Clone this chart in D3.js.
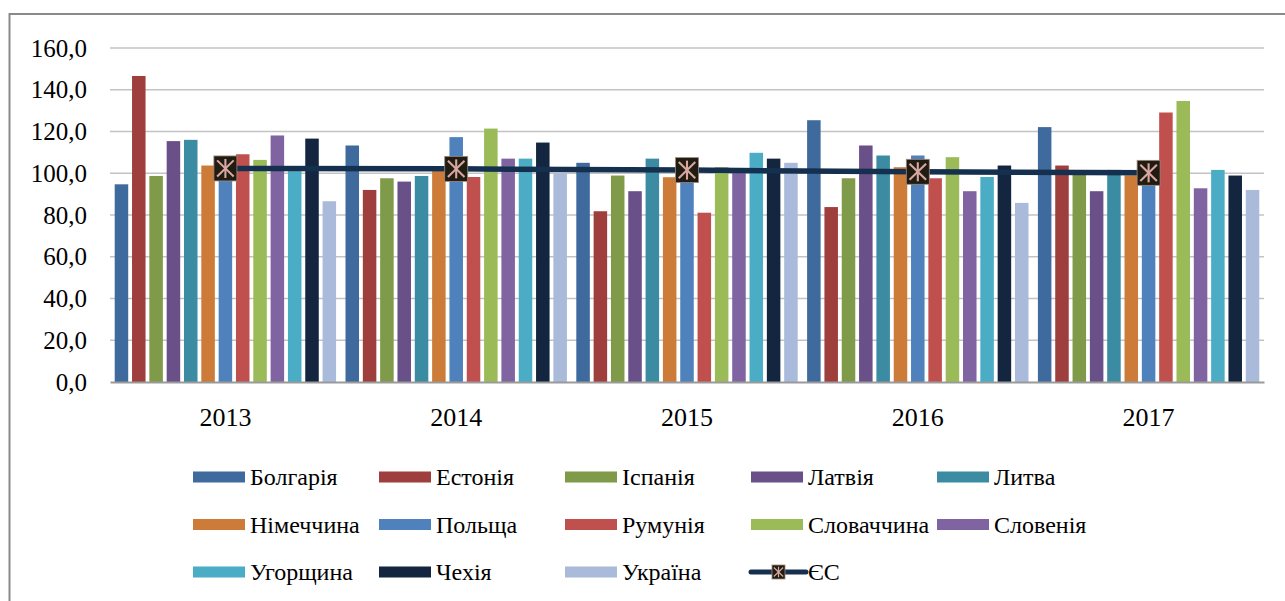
<!DOCTYPE html>
<html>
<head>
<meta charset="utf-8">
<script src="https://cdn.jsdelivr.net/npm/d3@7"></script>
<style>
  html, body { margin: 0; padding: 0; background: #fff; }
  svg text { font-family: "Liberation Serif", "Times New Roman", serif !important; }
</style>
</head>
<body>
<svg id="chart" width="1285" height="601"></svg>
<script>
// Years on the category axis
const years = ["2013", "2014", "2015", "2016", "2017"];

// Country series names (legend order)
const countries = ["Болгарія", "Естонія", "Іспанія", "Латвія", "Литва",
                   "Німеччина", "Польща", "Румунія", "Словаччина", "Словенія",
                   "Угорщина", "Чехія", "Україна"];

// Values per country, one per year
const bulgaria  = [94.7, 113.3, 105.0, 125.4, 122.1];
const estonia   = [146.6, 92.0, 81.8, 83.8, 103.7];
const spain     = [98.7, 97.6, 98.9, 97.6, 100.8];
const latvia    = [115.4, 96.0, 91.4, 113.3, 91.4];
const lithuania = [116.0, 98.7, 107.0, 108.5, 101.6];
const germany   = [103.7, 101.0, 98.1, 102.9, 99.0];
const poland    = [98.0, 117.3, 96.0, 108.5, 97.0];
const romania   = [109.1, 98.2, 81.1, 97.6, 129.1];
const slovakia  = [106.4, 121.4, 102.9, 107.7, 134.6];
const slovenia  = [118.1, 107.0, 101.5, 91.4, 92.8];
const hungary   = [101.0, 107.0, 109.8, 98.2, 101.6];
const czechia   = [116.6, 114.7, 107.0, 103.7, 98.9];
const ukraine   = [86.6, 100.0, 105.0, 85.8, 92.0];

// EU average line
const euLabel = "ЄС";
const eu = [102.3, 102.1, 101.5, 100.7, 100.2];

// Value axis ticks
const yTicks = [0, 20, 40, 60, 80, 100, 120, 140, 160];

const seriesValues = [bulgaria, estonia, spain, latvia, lithuania, germany, poland,
                      romania, slovakia, slovenia, hungary, czechia, ukraine];

const colors = ["#3F6A9D", "#9E3F3D", "#7F9A48", "#6A5088", "#3B8CA3",
                "#CD7B38", "#4F81BD", "#C0504D", "#9BBB59", "#8064A2",
                "#4BACC6", "#13253F", "#A9BADA"];

const serif = "'Liberation Serif', 'Times New Roman', serif";
const svg = d3.select("#chart");

// Outer frame (extends past the right/bottom edge)
svg.append("rect")
  .attr("x", 9.5).attr("y", 14)
  .attr("width", 1300).attr("height", 620)
  .attr("fill", "#fff")
  .attr("stroke", "#8a8a8a").attr("stroke-width", 2);

const plot = { left: 110, right: 1264, top: 48, bottom: 382 };

const x0 = d3.scaleBand().domain(years).range([plot.left, plot.right]).padding(0);
const x1 = d3.scaleBand().domain(countries)
  .range([2.8, x0.bandwidth() - 2.8])
  .paddingInner(0.22).paddingOuter(0.11);
const y = d3.scaleLinear().domain([0, 160]).range([plot.bottom, plot.top]);

const fmt = v => d3.format(".1f")(v).replace(".", ",");

// Gridlines
svg.append("g")
  .selectAll("line")
  .data(yTicks.filter(t => t > 0))
  .join("line")
  .attr("x1", plot.left).attr("x2", plot.right)
  .attr("y1", d => y(d)).attr("y2", d => y(d))
  .attr("stroke", "#c3c3c3").attr("stroke-width", 1.6);

// Y axis labels
const yAxis = d3.axisLeft(y).tickValues(yTicks).tickFormat(fmt).tickSize(0).tickPadding(23);
const yg = svg.append("g").attr("transform", `translate(${plot.left},0)`).call(yAxis)
  .attr("font-family", serif);
yg.select(".domain").remove();
yg.selectAll("text")
  .style("font-family", serif)
  .attr("font-size", 25).attr("fill", "#000");

// Bars
const groups = svg.append("g")
  .selectAll("g")
  .data(years)
  .join("g")
  .attr("transform", d => `translate(${x0(d)},0)`);

groups.selectAll("rect")
  .data((yr, i) => countries.map((c, k) => ({ c, k, v: seriesValues[k][i] })))
  .join("rect")
  .attr("x", d => x1(d.c))
  .attr("width", x1.bandwidth())
  .attr("y", d => y(d.v))
  .attr("height", d => y(0) - y(d.v))
  .attr("fill", d => colors[d.k]);

// Category axis baseline and labels
const xAxis = d3.axisBottom(x0).tickSize(0).tickPadding(26);
const xg = svg.append("g").attr("transform", `translate(0,${plot.bottom})`).call(xAxis)
  .attr("font-family", serif);
xg.select(".domain").attr("stroke", "#9a9a9a").attr("stroke-width", 1.8);
xg.selectAll("text")
  .style("font-family", serif)
  .attr("font-size", 26).attr("fill", "#000");

// EU line with markers
const euPts = years.map((yr, i) => [x0(yr) + x0.bandwidth() / 2, y(eu[i])]);
svg.append("path")
  .attr("d", d3.line()(euPts))
  .attr("fill", "none")
  .attr("stroke", "#15304F").attr("stroke-width", 5.5)
  .attr("stroke-linejoin", "round");

function drawMarker(g, cx, cy, w, h) {
  g.append("rect")
    .attr("x", cx - w / 2).attr("y", cy - h / 2)
    .attr("width", w).attr("height", h)
    .attr("fill", "#211c12").attr("stroke", "#a08a80").attr("stroke-width", 0.8);
  const ix = w * 0.36, iy = h * 0.38;
  const star = [
    [cx, cy - iy, cx, cy + iy],
    [cx - ix, cy - iy * 0.85, cx + ix, cy + iy * 0.85],
    [cx - ix, cy + iy * 0.85, cx + ix, cy - iy * 0.85]
  ];
  g.selectAll(null).data(star).join("line")
    .attr("x1", d => d[0]).attr("y1", d => d[1])
    .attr("x2", d => d[2]).attr("y2", d => d[3])
    .attr("stroke", "#d9a7a2").attr("stroke-width", Math.max(1.2, w / 11));
}

const mk = svg.append("g");
euPts.forEach(p => drawMarker(mk.append("g"), p[0], p[1], 23, 25));

// Legend
const legendCols = [193, 379, 565, 751, 937];
const legendRows = [477, 524.5, 572];
const legendItems = countries.map((c, k) => ({ name: c, color: colors[k], type: "bar" }))
  .concat([{ name: euLabel, color: "#15304F", type: "line" }]);

const lg = svg.append("g").attr("font-family", serif);
legendItems.forEach((d, i) => {
  const cx = legendCols[i % 5];
  const cy = legendRows[Math.floor(i / 5)];
  const g = lg.append("g");
  if (d.type === "bar") {
    g.append("rect")
      .attr("x", cx).attr("y", cy - 5.5)
      .attr("width", 52).attr("height", 11)
      .attr("fill", d.color);
  } else {
    g.append("line")
      .attr("x1", cx).attr("x2", cx + 55)
      .attr("y1", cy).attr("y2", cy)
      .attr("stroke", d.color).attr("stroke-width", 5)
      .attr("stroke-linecap", "round");
    drawMarker(g, cx + 27.5, cy, 13, 14);
  }
  g.append("text")
    .attr("x", cx + 57).attr("y", cy)
    .attr("dy", "0.35em")
    .attr("font-size", 24)
    .style("font-family", serif)
    .attr("fill", "#000")
    .text(d.name);
});
</script>
</body>
</html>
